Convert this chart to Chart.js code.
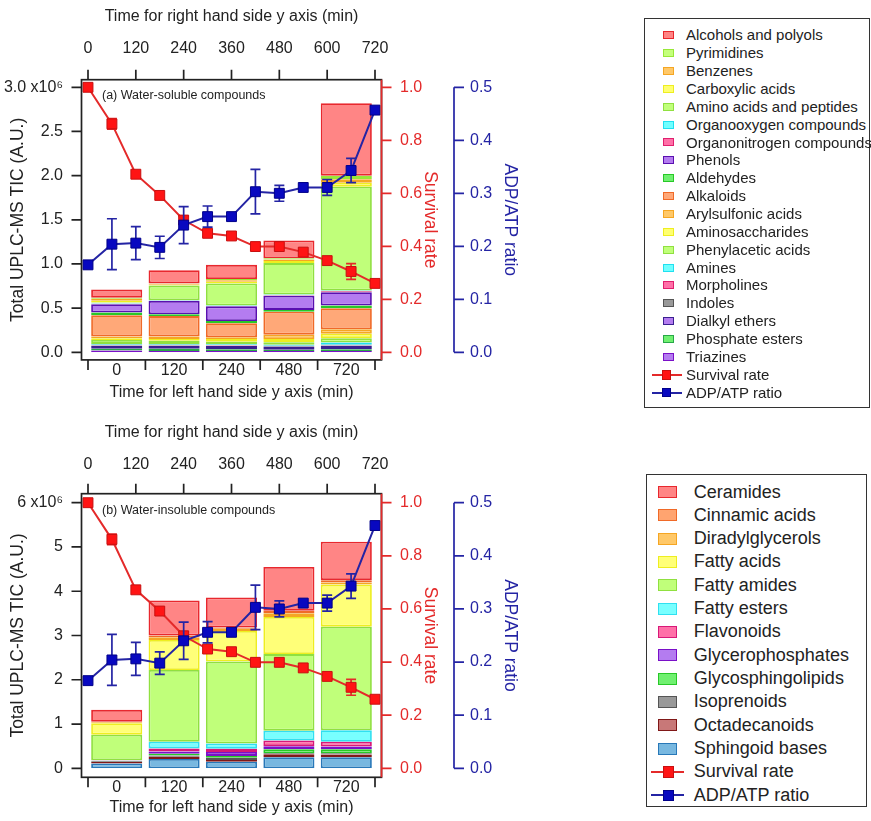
<!DOCTYPE html>
<html>
<head>
<meta charset="utf-8">
<script src="https://cdn.jsdelivr.net/npm/chart.js@4.4.1/dist/chart.umd.min.js"></script>
<style>
    body { margin: 0; background: #fff; width: 871px; height: 821px; position: relative; overflow: hidden;
           font-family: 'Liberation Sans', Arial, sans-serif; color: #222; }
    canvas { position: absolute; left: 0; }
    #chartA { top: 0; }
    #chartB { top: 410px; }
    .legend { position: absolute; border: 1.5px solid #333; box-sizing: border-box; background: #fff; }
    .legend .row { position: absolute; left: 0; right: 0; white-space: nowrap; }
    .legend .sw, .legend .ln, .legend .mk { position: absolute; box-sizing: border-box; }
    .legend .tx { position: absolute; top: 0; }
</style>
</head>
<body>
<canvas id="chartA" width="871" height="410"></canvas>
<canvas id="chartB" width="871" height="411"></canvas>
<div id="legendA" class="legend" style="left:644px; top:18px; width:226px; height:390px;"></div>
<div id="legendB" class="legend" style="left:646px; top:474px; width:221px; height:333px;"></div>
<script>
const timeCats = ['0', '120', '240', '480', '720'];
const timePoints = [0, 60, 120, 180, 240, 300, 360, 420, 480, 540, 600, 660, 720];
const topTimeTicks = [0, 120, 240, 360, 480, 600, 720];
const survivalTicks = [0, 0.2, 0.4, 0.6, 0.8, 1.0];
const ratioTicks = [0, 0.1, 0.2, 0.3, 0.4, 0.5];
const solubleTicks = [0, 0.5, 1, 1.5, 2, 2.5, 3];
const solubleTickLabels = ['0.0', '0.5', '1.0', '1.5', '2.0', '2.5', '3.0 x10\u2076'];
const insolubleTicks = [0, 1, 2, 3, 4, 5, 6];
const insolubleTickLabels = ['0', '1', '2', '3', '4', '5', '6 x10\u2076'];

const survivalRate = [1.0, 0.862, 0.672, 0.592, 0.499, 0.449, 0.439, 0.399, 0.399, 0.378, 0.346, 0.305, 0.26];
const survivalErr = [0, 0.02, 0, 0, 0.015, 0.012, 0, 0, 0, 0, 0, 0.03, 0];
const adpAtpRatio = [0.165, 0.204, 0.206, 0.198, 0.24, 0.256, 0.256, 0.303, 0.3, 0.311, 0.311, 0.343, 0.457];
const adpAtpErr = [0, 0.048, 0.031, 0.021, 0.035, 0.02, 0, 0.042, 0.015, 0, 0.015, 0.023, 0];

// (a) water-soluble classes, x10^6 A.U. at 0/120/240/480/720 min
const alcoholsPolyols = [0.092, 0.15, 0.16, 0.2, 0.82];
const pyrimidines = [0.013, 0.005, 0.015, 0.015, 0.04];
const benzenes = [0.02, 0.01, 0.015, 0.015, 0.04];
const carboxylicAcids = [0.02, 0.01, 0.02, 0.025, 0.045];
const aminoAcidsPeptides = [0.01, 0.165, 0.25, 0.355, 1.175];
const organooxygen = [0.005, 0.005, 0.005, 0.01, 0.01];
const organonitrogen = [0.005, 0.005, 0.005, 0.005, 0.01];
const phenols = [0.095, 0.15, 0.165, 0.16, 0.15];
const aldehydes = [0.03, 0.02, 0.025, 0.02, 0.03];
const alkaloids = [0.24, 0.23, 0.16, 0.26, 0.24];
const arylsulfonicAcids = [0.02, 0.03, 0.02, 0.05, 0.05];
const aminosaccharides = [0.02, 0.02, 0.03, 0.035, 0.05];
const phenylaceticAcids = [0.045, 0.035, 0.03, 0.03, 0.05];
const amines = [0.01, 0.01, 0.01, 0.01, 0.025];
const morpholines = [0.005, 0.005, 0.005, 0.005, 0.005];
const indoles = [0.005, 0.005, 0.005, 0.005, 0.005];
const dialkylEthers = [0.035, 0.035, 0.035, 0.035, 0.04];
const phosphateEsters = [0.02, 0.025, 0.02, 0.015, 0.02];
const triazines = [0.02, 0.015, 0.015, 0.015, 0.015];

// (b) water-insoluble classes
const ceramides = [0.27, 0.79, 0.68, 0.99, 0.87];
const cinnamicAcids = [0.01, 0.04, 0.03, 0.06, 0.05];
const diradylglycerols = [0.02, 0.06, 0.05, 0.08, 0.05];
const fattyAcids = [0.26, 0.68, 0.69, 0.84, 0.95];
const fattyAmides = [0.58, 1.62, 1.85, 1.73, 2.34];
const fattyEsters = [0.005, 0.15, 0.12, 0.22, 0.26];
const flavonoids = [0.005, 0.07, 0.07, 0.13, 0.11];
const glycerophosphates = [0.005, 0.05, 0.09, 0.07, 0.06];
const glycosphingolipids = [0.005, 0.04, 0.04, 0.09, 0.09];
const isoprenoids = [0.02, 0.03, 0.05, 0.02, 0.03];
const octadecanoids = [0.03, 0.05, 0.04, 0.07, 0.06];
const sphingoidBases = [0.11, 0.21, 0.15, 0.25, 0.25];

// legend order = top of the stack first
const solubleClasses = [
    ['Alcohols and polyols', alcoholsPolyols],
    ['Pyrimidines', pyrimidines],
    ['Benzenes', benzenes],
    ['Carboxylic acids', carboxylicAcids],
    ['Amino acids and peptides', aminoAcidsPeptides],
    ['Organooxygen compounds', organooxygen],
    ['Organonitrogen compounds', organonitrogen],
    ['Phenols', phenols],
    ['Aldehydes', aldehydes],
    ['Alkaloids', alkaloids],
    ['Arylsulfonic acids', arylsulfonicAcids],
    ['Aminosaccharides', aminosaccharides],
    ['Phenylacetic acids', phenylaceticAcids],
    ['Amines', amines],
    ['Morpholines', morpholines],
    ['Indoles', indoles],
    ['Dialkyl ethers', dialkylEthers],
    ['Phosphate esters', phosphateEsters],
    ['Triazines', triazines]
];
const solubleStyle = [
    ['#ff8585', '#e8282e'], ['#c4ff7c', '#98e838'], ['#ffc868', '#f5a623'], ['#ffff70', '#eeee20'],
    ['#c0ff7a', '#90e040'], ['#70ffff', '#20e0f0'], ['#ff70a8', '#e0206e'], ['#b47cf0', '#5a10b0'],
    ['#70f070', '#28c828'], ['#ffa878', '#f06a28'], ['#ffc868', '#f5a623'], ['#ffff70', '#eeee20'],
    ['#c0ff7a', '#90e040'], ['#70ffff', '#20e0f0'], ['#ff70a8', '#e0206e'], ['#999999', '#555555'],
    ['#b47cf0', '#3a2090'], ['#70f070', '#28a848'], ['#b47cf0', '#7a10c8']
];

const insolubleClasses = [
    ['Ceramides', ceramides],
    ['Cinnamic acids', cinnamicAcids],
    ['Diradylglycerols', diradylglycerols],
    ['Fatty acids', fattyAcids],
    ['Fatty amides', fattyAmides],
    ['Fatty esters', fattyEsters],
    ['Flavonoids', flavonoids],
    ['Glycerophosphates', glycerophosphates],
    ['Glycosphingolipids', glycosphingolipids],
    ['Isoprenoids', isoprenoids],
    ['Octadecanoids', octadecanoids],
    ['Sphingoid bases', sphingoidBases]
];
const insolubleStyle = [
    ['#ff8585', '#e8282e'], ['#ffa470', '#f06a28'], ['#ffc868', '#f5a623'], ['#ffff78', '#eeee20'],
    ['#c0ff7a', '#90e040'], ['#78ffff', '#30e0f0'], ['#ff70a8', '#d81878'], ['#b47cf0', '#7a10c8'],
    ['#70f070', '#28c828'], ['#999999', '#555555'], ['#c87878', '#801818'], ['#78b8e0', '#2878b8']
];

const red = '#e42a2a';
const redMark = '#ff1414';
const blue = '#2424a4';
const blueMark = '#0808c0';
const ink = '#222222';
const sans = "'Liberation Sans', Arial, sans-serif";
const tickFont = { family: sans, size: 16 };
const sideFont = { family: sans, size: 17.5 };

// frame, tick marks and caption drawn around the data box
const frameAxes = {
    id: 'frameAxes',
    afterDraw(chart, args, opts) {
        const { ctx, chartArea: a, scales } = chart;
        const L = a.left - opts.padX, R = a.right + opts.padX;
        const T = a.top - opts.padY, B = a.bottom + opts.padY;
        const tl = 10;
        ctx.save();
        ctx.lineWidth = 1.7;
        ctx.strokeStyle = ink;
        ctx.strokeRect(L, T, R - L, B - T);
        ctx.beginPath();
        scales.y.ticks.forEach(t => {
            const y = scales.y.getPixelForValue(t.value);
            ctx.moveTo(L, y); ctx.lineTo(L - tl, y);
        });
        scales.x2.ticks.forEach(t => {
            const x = scales.x2.getPixelForValue(t.value);
            ctx.moveTo(x, T); ctx.lineTo(x, T - tl);
        });
        for (let i = 0; i <= scales.x.ticks.length; i++) {
            const x = scales.x.getPixelForValue(i - 0.5);
            ctx.moveTo(x, B); ctx.lineTo(x, B + tl);
        }
        ctx.stroke();

        ctx.strokeStyle = red;
        ctx.beginPath();
        ctx.moveTo(R, T); ctx.lineTo(R, B);
        scales.yR.ticks.forEach(t => {
            const y = scales.yR.getPixelForValue(t.value);
            ctx.moveTo(R, y); ctx.lineTo(R + tl, y);
        });
        ctx.stroke();

        const xb = scales.yB.left;
        ctx.strokeStyle = blue;
        ctx.beginPath();
        ctx.moveTo(xb, scales.yB.getPixelForValue(scales.yB.min));
        ctx.lineTo(xb, scales.yB.getPixelForValue(scales.yB.max));
        scales.yB.ticks.forEach(t => {
            const y = scales.yB.getPixelForValue(t.value);
            ctx.moveTo(xb, y); ctx.lineTo(xb + tl, y);
        });
        ctx.stroke();

        ctx.fillStyle = ink;
        ctx.font = '12.5px ' + sans;
        ctx.textBaseline = 'middle';
        ctx.fillText(opts.caption, a.left + 14, a.top + opts.captionDy);
        ctx.restore();
    }
};

const errorBars = {
    id: 'errorBars',
    beforeDatasetDraw(chart, args) {
        const ds = chart.data.datasets[args.index];
        if (!ds.errors) return;
        const { ctx } = chart;
        const yScale = chart.scales[ds.yAxisID];
        ctx.save();
        ctx.strokeStyle = ds.borderColor;
        ctx.lineWidth = 1.7;
        ctx.beginPath();
        args.meta.data.forEach((pt, i) => {
            const e = ds.errors[i];
            if (!e) return;
            const v = ds.data[i].y;
            const yTop = yScale.getPixelForValue(v + e);
            const yBot = yScale.getPixelForValue(v - e);
            ctx.moveTo(pt.x, yTop); ctx.lineTo(pt.x, yBot);
            ctx.moveTo(pt.x - 5, yTop); ctx.lineTo(pt.x + 5, yTop);
            ctx.moveTo(pt.x - 5, yBot); ctx.lineTo(pt.x + 5, yBot);
        });
        ctx.stroke();
        ctx.restore();
    }
};

function buildPanel(canvasId, p) {
    const barSets = p.classes.map(([name, values], i) => ({
        type: 'bar',
        label: name,
        data: values,
        backgroundColor: p.styles[i][0],
        borderColor: p.styles[i][1],
        borderWidth: 1.8,
        borderSkipped: false,
        grouped: false,
        barPercentage: 0.89,
        categoryPercentage: 1,
        xAxisID: 'x',
        yAxisID: 'y',
        order: 1
    })).reverse();

    const lineSets = [
        {
            type: 'line',
            label: 'ADP/ATP ratio',
            data: timePoints.map((t, i) => ({ x: t, y: adpAtpRatio[i] })),
            errors: adpAtpErr,
            xAxisID: 'x2',
            yAxisID: 'yB',
            borderColor: blue,
            borderWidth: 2,
            pointStyle: 'rect',
            pointRadius: 7,
            pointBackgroundColor: blueMark,
            pointBorderColor: '#00008a',
            pointBorderWidth: 1,
            tension: 0,
            clip: false,
            order: -2
        },
        {
            type: 'line',
            label: 'Survival rate',
            data: timePoints.map((t, i) => ({ x: t, y: survivalRate[i] })),
            errors: survivalErr,
            xAxisID: 'x2',
            yAxisID: 'yR',
            borderColor: red,
            borderWidth: 2,
            pointStyle: 'rect',
            pointRadius: 7,
            pointBackgroundColor: redMark,
            pointBorderColor: '#c81010',
            pointBorderWidth: 1,
            tension: 0,
            clip: false,
            order: -1
        }
    ];

    const noGrid = { display: false, drawTicks: false };
    const noBorder = { display: false };

    return new Chart(document.getElementById(canvasId), {
        type: 'bar',
        data: { labels: timeCats, datasets: lineSets.concat(barSets) },
        plugins: [frameAxes, errorBars],
        options: {
            responsive: false,
            animation: false,
            devicePixelRatio: 1,
            layout: { padding: { left: 0, top: 0, right: 345, bottom: 0 } },
            plugins: {
                legend: { display: false },
                tooltip: { enabled: false },
                frameAxes: { padX: 6.5, padY: p.padY, caption: p.caption, captionDy: p.captionDy }
            },
            scales: {
                x: {
                    type: 'category',
                    position: 'bottom',
                    offset: true,
                    stacked: true,
                    grid: noGrid,
                    border: noBorder,
                    ticks: { color: ink, font: tickFont, padding: p.xPad, maxRotation: 0, autoSkip: false },
                    title: {
                        display: true, text: 'Time for left hand side y axis (min)', color: ink, font: tickFont,
                        padding: { top: 0, bottom: p.xTitlePad }
                    },
                    afterFit: s => { s.height = p.xHeight; }
                },
                x2: {
                    type: 'linear',
                    position: 'top',
                    min: 0,
                    max: 720,
                    offset: false,
                    grid: noGrid,
                    border: noBorder,
                    afterBuildTicks: s => { s.ticks = topTimeTicks.map(v => ({ value: v })); },
                    ticks: { color: ink, font: tickFont, padding: p.x2Pad, maxRotation: 0, autoSkip: false },
                    title: {
                        display: true, text: 'Time for right hand side y axis (min)', color: ink, font: tickFont,
                        padding: { top: p.x2TitlePad, bottom: 0 }
                    },
                    afterFit: s => { s.height = p.x2Height; }
                },
                y: {
                    type: 'linear',
                    position: 'left',
                    min: 0,
                    max: p.yTicks[p.yTicks.length - 1],
                    stacked: true,
                    grid: noGrid,
                    border: noBorder,
                    afterBuildTicks: s => { s.ticks = p.yTicks.map(v => ({ value: v })); },
                    ticks: { color: ink, font: tickFont, padding: 25, callback: (v, i) => p.yLabels[i] },
                    title: {
                        display: true, text: 'Total UPLC-MS TIC (A.U.)', color: ink, font: sideFont,
                        padding: { top: 7.5, bottom: 0 }
                    },
                    afterFit: s => { s.width = 88; }
                },
                yR: {
                    type: 'linear',
                    position: 'right',
                    weight: 0,
                    min: 0,
                    max: 1,
                    grid: noGrid,
                    border: noBorder,
                    afterBuildTicks: s => { s.ticks = survivalTicks.map(v => ({ value: v })); },
                    ticks: { color: red, font: tickFont, padding: 25, callback: v => v.toFixed(1) },
                    title: {
                        display: true, text: 'Survival rate', color: red, font: sideFont,
                        padding: { top: 13.5, bottom: 0 }
                    },
                    afterFit: s => { s.width = 79; }
                },
                yB: {
                    type: 'linear',
                    position: 'right',
                    weight: 1,
                    min: 0,
                    max: 0.5,
                    grid: noGrid,
                    border: noBorder,
                    afterBuildTicks: s => { s.ticks = ratioTicks.map(v => ({ value: v })); },
                    ticks: { color: blue, font: tickFont, padding: 16, callback: v => v.toFixed(1) },
                    title: {
                        display: true, text: 'ADP/ATP ratio', color: blue, font: sideFont,
                        padding: { top: 5.5, bottom: 0 }
                    },
                    afterFit: s => { s.width = 72; }
                }
            }
        }
    });
}

function buildLegend(boxId, classes, styles, spec) {
    const box = document.getElementById(boxId);
    const rows = classes.map((c, i) => ({ kind: 'swatch', name: c[0], fill: styles[i][0], edge: styles[i][1] }));
    rows.push({ kind: 'line', name: 'Survival rate', stroke: red, fill: redMark, edge: '#c81010' });
    rows.push({ kind: 'line', name: 'ADP/ATP ratio', stroke: blue, fill: blueMark, edge: '#00008a' });

    rows.forEach((r, i) => {
        const row = document.createElement('div');
        row.className = 'row';
        row.style.top = (spec.padTop + i * spec.rowH) + 'px';
        row.style.height = spec.rowH + 'px';

        if (r.kind === 'swatch') {
            const sw = document.createElement('span');
            sw.className = 'sw';
            sw.style.left = spec.swX + 'px';
            sw.style.top = ((spec.rowH - spec.swH) / 2) + 'px';
            sw.style.width = spec.swW + 'px';
            sw.style.height = spec.swH + 'px';
            sw.style.background = r.fill;
            sw.style.border = '1.5px solid ' + r.edge;
            row.appendChild(sw);
        } else {
            const ln = document.createElement('span');
            ln.className = 'ln';
            ln.style.left = spec.lineX0 + 'px';
            ln.style.width = (spec.lineX1 - spec.lineX0) + 'px';
            ln.style.top = (spec.rowH / 2 - 1) + 'px';
            ln.style.height = '2px';
            ln.style.background = r.stroke;
            row.appendChild(ln);
            const mk = document.createElement('span');
            mk.className = 'mk';
            mk.style.left = (spec.markX - spec.markSize / 2) + 'px';
            mk.style.top = ((spec.rowH - spec.markSize) / 2) + 'px';
            mk.style.width = spec.markSize + 'px';
            mk.style.height = spec.markSize + 'px';
            mk.style.background = r.fill;
            mk.style.border = '1px solid ' + r.edge;
            row.appendChild(mk);
        }

        const tx = document.createElement('span');
        tx.className = 'tx';
        tx.style.left = spec.textX + 'px';
        tx.style.fontSize = spec.font + 'px';
        tx.style.lineHeight = spec.rowH + 'px';
        tx.textContent = r.name;
        row.appendChild(tx);
        box.appendChild(row);
    });
}

buildPanel('chartA', {
    classes: solubleClasses, styles: solubleStyle,
    yTicks: solubleTicks, yLabels: solubleTickLabels,
    caption: '(a) Water-soluble compounds', captionDy: 8.5,
    padY: 7.6,
    x2Height: 87.3, x2Pad: 29.4, x2TitlePad: 7.4,
    xHeight: 57.7, xPad: 9.1, xTitlePad: 7.4
});

buildPanel('chartB', {
    classes: insolubleClasses, styles: insolubleStyle,
    yTicks: insolubleTicks, yLabels: insolubleTickLabels,
    caption: '(b) Water-insoluble compounds', captionDy: 7.5,
    padY: 9,
    x2Height: 92.7, x2Pad: 28.1, x2TitlePad: 13.4,
    xHeight: 52.7, xPad: 10.1, xTitlePad: 3.4
});

buildLegend('legendA', solubleClasses, solubleStyle, {
    padTop: 7.3, rowH: 17.87, swX: 18, swW: 11, swH: 8, textX: 41, font: 15,
    lineX0: 6.5, lineX1: 36.5, markX: 21.5, markSize: 9.5
});

buildLegend('legendB', insolubleClasses, insolubleStyle, {
    padTop: 5.5, rowH: 23.33, swX: 10.8, swW: 19.4, swH: 12, textX: 46.8, font: 18,
    lineX0: 4.2, lineX1: 37.5, markX: 21.5, markSize: 11.5
});
</script>
</body>
</html>
